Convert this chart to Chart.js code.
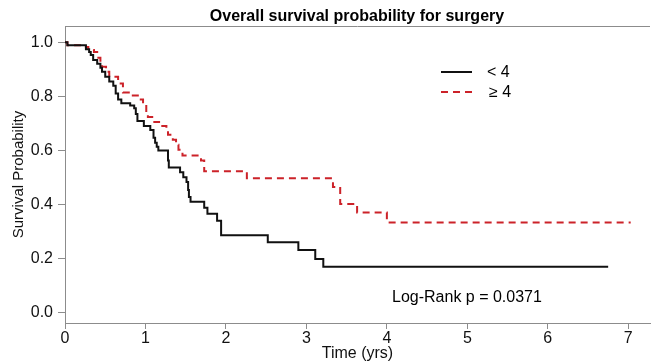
<!DOCTYPE html>
<html>
<head>
<meta charset="utf-8">
<script src="https://cdn.jsdelivr.net/npm/chart.js@4.4.0/dist/chart.umd.min.js"></script>
<style>
  html, body { margin: 0; padding: 0; background: #fff; }
</style>
</head>
<body>
<canvas id="kmChart" width="651" height="362"></canvas>
<script>
// Kaplan-Meier steps (time in years, survival probability)
const lowTimes = [0, 0.03, 0.26, 0.30, 0.32, 0.35, 0.40, 0.44, 0.46, 0.50, 0.55, 0.60, 0.63, 0.66, 0.70, 0.81, 0.86, 0.88, 0.90, 0.98, 1.06, 1.10, 1.12, 1.14, 1.16, 1.28, 1.29, 1.43, 1.47, 1.51, 1.53, 1.54, 1.56, 1.73, 1.77, 1.89, 1.94, 2.52, 2.90, 3.11, 3.21, 6.75];
const lowSurv = [1.0, 0.989, 0.974, 0.964, 0.953, 0.934, 0.920, 0.905, 0.891, 0.872, 0.854, 0.839, 0.810, 0.788, 0.774, 0.766, 0.755, 0.734, 0.708, 0.690, 0.675, 0.646, 0.628, 0.613, 0.599, 0.562, 0.536, 0.518, 0.500, 0.482, 0.453, 0.427, 0.409, 0.387, 0.365, 0.339, 0.285, 0.259, 0.230, 0.197, 0.168, 0.168];

const highTimes = [0, 0.03, 0.26, 0.29, 0.36, 0.40, 0.44, 0.46, 0.51, 0.55, 0.66, 0.72, 0.82, 0.92, 0.97, 1.01, 1.03, 1.11, 1.19, 1.26, 1.28, 1.34, 1.38, 1.41, 1.46, 1.69, 1.73, 2.26, 3.33, 3.42, 3.63, 4.00, 7.03];
const highSurv = [1.0, 0.989, 0.982, 0.971, 0.964, 0.942, 0.920, 0.909, 0.891, 0.872, 0.847, 0.814, 0.803, 0.788, 0.770, 0.737, 0.723, 0.704, 0.690, 0.672, 0.657, 0.639, 0.620, 0.602, 0.580, 0.562, 0.522, 0.496, 0.464, 0.401, 0.369, 0.332, 0.332];

const groupLabels = ['< 4', '\u2265 4'];
const xTicks = [0, 1, 2, 3, 4, 5, 6, 7];
const yTicks = [0, 0.2, 0.4, 0.6, 0.8, 1.0];
const chartTitle = 'Overall survival probability for surgery';
const pValueText = 'Log-Rank p = 0.0371';

const FONT = "'Liberation Sans', Arial, sans-serif";
const axisGray = '#8c8c8c';
const redCol = '#cc2229';

function toPoints(times, surv) {
  return times.map((t, i) => ({ x: t, y: surv[i] }));
}

// title, legend, p-value and the top of the frame
const extras = {
  id: 'extras',
  afterDraw(chart) {
    const ctx = chart.ctx;
    const area = chart.chartArea;
    ctx.save();

    ctx.strokeStyle = axisGray;
    ctx.lineWidth = 1;
    ctx.beginPath();
    ctx.moveTo(area.left, area.top + 0.5);
    ctx.lineTo(area.right, area.top + 0.5);
    ctx.stroke();

    ctx.fillStyle = '#000';
    ctx.textAlign = 'center';
    ctx.textBaseline = 'middle';
    ctx.font = 'bold 16px ' + FONT;
    ctx.fillText(chartTitle, 357, 17);

    // legend
    ctx.lineWidth = 2;
    ctx.strokeStyle = '#111';
    ctx.beginPath();
    ctx.moveTo(441, 72);
    ctx.lineTo(472, 72);
    ctx.stroke();
    ctx.strokeStyle = redCol;
    ctx.setLineDash([7, 5]);
    ctx.beginPath();
    ctx.moveTo(441, 92);
    ctx.lineTo(472, 92);
    ctx.stroke();
    ctx.setLineDash([]);

    ctx.font = '16px ' + FONT;
    ctx.textAlign = 'left';
    ctx.fillStyle = '#000';
    ctx.fillText(groupLabels[0], 487, 73);
    ctx.fillText(groupLabels[1], 489, 93);

    ctx.fillText(pValueText, 392, 298);
    ctx.restore();
  }
};

const ctx = document.getElementById('kmChart').getContext('2d');

new Chart(ctx, {
  type: 'line',
  data: {
    datasets: [
      {
        label: groupLabels[0],
        data: toPoints(lowTimes, lowSurv),
        borderColor: '#111',
        borderWidth: 2,
        stepped: 'before',
        pointRadius: 0,
        fill: false
      },
      {
        label: groupLabels[1],
        data: toPoints(highTimes, highSurv),
        borderColor: redCol,
        borderWidth: 2,
        borderDash: [7, 5],
        stepped: 'before',
        pointRadius: 0,
        fill: false
      }
    ]
  },
  options: {
    responsive: false,
    animation: false,
    devicePixelRatio: 1,
    layout: { padding: { top: 26, right: 1, left: 0, bottom: 0 } },
    plugins: {
      legend: { display: false },
      tooltip: { enabled: false },
      title: { display: false }
    },
    scales: {
      x: {
        type: 'linear',
        min: 0,
        max: 7.27,
        afterBuildTicks: (s) => { s.ticks = xTicks.map(v => ({ value: v })); },
        afterFit: (s) => { s.height = 39; },
        ticks: {
          color: '#111',
          font: { family: FONT, size: 16 },
          padding: 0,
          maxRotation: 0,
          autoSkip: false,
          callback: (v) => String(v)
        },
        grid: { display: true, drawOnChartArea: false, drawTicks: true, tickLength: 6, color: axisGray },
        border: { display: true, color: axisGray, width: 1 },
        title: {
          display: true,
          text: 'Time (yrs)',
          color: '#111',
          font: { family: FONT, size: 16 },
          padding: { top: 0, bottom: -1 }
        }
      },
      y: {
        type: 'linear',
        min: -0.04,
        max: 1.06,
        afterBuildTicks: (s) => { s.ticks = yTicks.map(v => ({ value: v })); },
        afterFit: (s) => { s.width = 65; },
        ticks: {
          color: '#111',
          font: { family: FONT, size: 16 },
          padding: 5,
          callback: (v) => v.toFixed(1)
        },
        grid: { display: true, drawOnChartArea: false, drawTicks: true, tickLength: 7, color: axisGray },
        border: { display: true, color: axisGray, width: 1 },
        title: {
          display: true,
          text: 'Survival Probability',
          color: '#111',
          font: { family: FONT, size: 15 },
          padding: { top: 10, bottom: 0 }
        }
      }
    }
  },
  plugins: [extras]
});
</script>
</body>
</html>
